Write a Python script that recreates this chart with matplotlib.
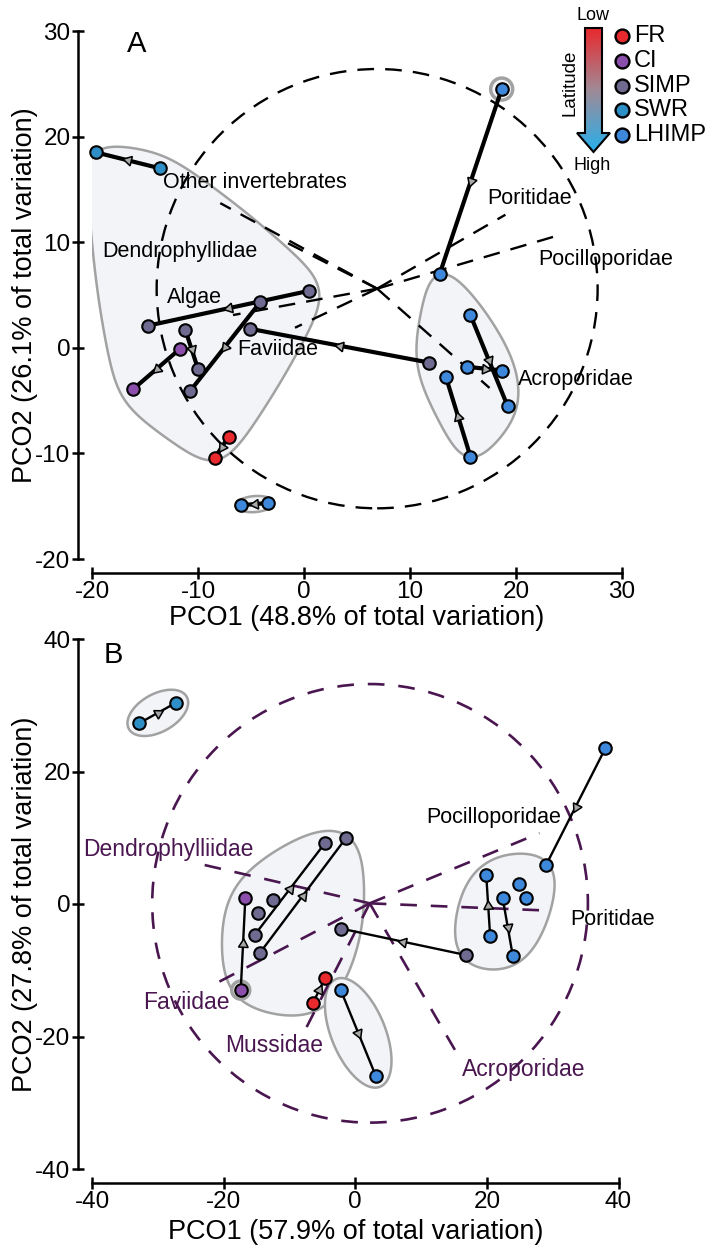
import numpy as np
import matplotlib
matplotlib.use("Agg")
import matplotlib.pyplot as plt
from matplotlib.patches import Polygon, Ellipse
from matplotlib.colors import LinearSegmentedColormap

plt.rcParams["font.family"] = ["Liberation Sans", "DejaVu Sans"]
plt.rcParams["axes.unicode_minus"] = False
plt.rcParams["lines.scale_dashes"] = False

W, H = 718, 1252

site_names = ["FR", "CI", "SIMP", "SWR", "LHIMP"]
site_colors = {"FR": "#e8292d", "CI": "#8b4fab", "SIMP": "#6e6a90",
               "SWR": "#2e8ec6", "LHIMP": "#3d88da"}

# ---- panel A: sample positions
A_x = [-19.6, -13.6, 0.5, -4.15, -14.7, -10.75, -5.1, -11.2, -10.0, -11.7, -16.1, -7.1, -8.4,
       -5.9, -3.4, 18.65, 12.8, 15.7, 19.2, 18.7, 15.4, 13.4, 15.7, 11.8]
A_y = [18.5, 17.0, 5.4, 4.3, 2.1, -4.1, 1.8, 1.7, -2.0, -0.1, -3.9, -8.4, -10.4,
       -14.9, -14.7, 24.5, 7.0, 3.1, -5.5, -2.15, -1.8, -2.8, -10.3, -1.4]
A_site = ["SWR", "SWR", "SIMP", "SIMP", "SIMP", "SIMP", "SIMP", "SIMP", "SIMP", "CI", "CI", "FR", "FR",
          "LHIMP", "LHIMP", "LHIMP", "LHIMP", "LHIMP", "LHIMP", "LHIMP", "LHIMP", "LHIMP", "LHIMP", "SIMP"]
A_moves = [(1, 0), (2, 4), (3, 5), (23, 6), (7, 8), (9, 10), (11, 12), (14, 13),
           (15, 16), (17, 18), (20, 19), (22, 21)]
A_hulls = [list(range(0, 13)), [13, 14], [15], list(range(16, 24))]

A_vec_names = ["Other invertebrates", "Dendrophyllidae", "Algae", "Faviidae",
               "Poritidae", "Pocilloporidae", "Acroporidae"]
A_vec_x = [-7.9, -2.3, -6.7, -0.85, 19.0, 23.5, 17.5]
A_vec_y = [13.7, 10.3, 3.1, 1.9, 12.6, 10.5, -3.8]
A_lab_x = [-13.3, -19.0, -12.9, -6.3, 17.3, 22.1, 20.2]
A_lab_y = [15.7, 9.1, 4.8, -0.15, 14.1, 8.4, -3.0]
A_circle = (6.9, 5.6, 20.8)

# ---- panel B
B_x = [-32.8, -27.2, -4.6, -1.45, -15.3, -14.5, -14.75, -12.5, -16.7, -17.4, -2.2, 16.8,
       -4.6, -6.4, -2.2, 3.1, 38.0, 29.0, 19.9, 20.5, 22.4, 23.95, 24.9, 25.9]
B_y = [27.3, 30.4, 9.2, 9.9, -4.7, -7.4, -1.4, 0.6, 0.9, -13.0, -3.7, -7.7,
       -11.2, -14.9, -13.0, -25.9, 23.5, 5.9, 4.4, -4.9, 0.9, -7.9, 3.0, 0.9]
B_site = ["SWR", "SWR", "SIMP", "SIMP", "SIMP", "SIMP", "SIMP", "SIMP", "CI", "CI", "SIMP", "SIMP",
          "FR", "FR", "LHIMP", "LHIMP", "LHIMP", "LHIMP", "LHIMP", "LHIMP", "LHIMP", "LHIMP", "LHIMP", "LHIMP"]
B_moves = [(0, 1), (4, 2), (5, 3), (9, 8), (11, 10), (13, 12), (14, 15),
           (16, 17), (19, 18), (20, 21)]
B_hulls = [[0, 1], [2, 3, 4, 5, 6, 7, 8, 9, 10, 12, 13], [14, 15], [9], [11, 17, 18, 19, 20, 21, 22, 23]]

B_vec_names = ["Dendrophylliidae", "Faviidae", "Mussidae", "Acroporidae", "Pocilloporidae", "Poritidae"]
B_vec_x = [-24.7, -21.0, -7.4, 15.6, 28.0, 29.5]
B_vec_y = [6.3, -11.9, -18.6, -22.8, 10.7, -1.0]
B_lab_x = [-41.4, -32.3, -19.8, 16.2, 10.85, 32.6]
B_lab_y = [8.3, -14.8, -21.4, -25.0, 13.0, -2.3]
B_origin = (2.2, 0.1)
B_circle = (2.25, 0.1, 33.1)

PURPLE = "#4a1650"
HULL_FC = "#f2f4f7"
HULL_EC = "#a2a2a2"


def convex_hull(P):
    pts = sorted(map(tuple, P))
    def cross(o, a, b):
        return (a[0] - o[0]) * (b[1] - o[1]) - (a[1] - o[1]) * (b[0] - o[0])
    lower, upper = [], []
    for p in pts:
        while len(lower) >= 2 and cross(lower[-2], lower[-1], p) <= 0:
            lower.pop()
        lower.append(p)
    for p in reversed(pts):
        while len(upper) >= 2 and cross(upper[-2], upper[-1], p) <= 0:
            upper.pop()
        upper.append(p)
    return np.array(lower[:-1] + upper[:-1])


def smooth_outline(pix, pad, sigma, bulge, n=600):
    # buffered convex hull, resampled by arc length and gaussian-smoothed
    th = np.linspace(0, 2 * np.pi, 36, endpoint=False)
    circ = pad * np.column_stack([np.cos(th), np.sin(th)])
    hv = convex_hull((pix[:, None, :] + circ[None, :, :]).reshape(-1, 2))
    P = np.vstack([hv, hv[:1]])
    s = np.concatenate([[0], np.cumsum(np.linalg.norm(np.diff(P, axis=0), axis=1))])
    u = np.linspace(0, s[-1], n, endpoint=False)
    xy = np.column_stack([np.interp(u, s, P[:, 0]), np.interp(u, s, P[:, 1])])
    sig = sigma / (s[-1] / n)
    f = np.fft.rfftfreq(n)
    g = np.exp(-0.5 * (2 * np.pi * f * sig) ** 2)
    out = np.column_stack([np.fft.irfft(np.fft.rfft(xy[:, k]) * g, n=n) for k in range(2)])
    # swell the flatter stretches a little so the outline reads as a rounded blob
    c = out.mean(axis=0)
    rr = np.linalg.norm(out - c, axis=1)
    out = c + (out - c) * (1 + bulge * (1 - rr / rr.max()))[:, None]
    return np.vstack([out, out[:1]])


def draw_hull(ax, xs, ys, pad, side=None, lw=1.8, sigma=20, bulge=0.25):
    pix = ax.transData.transform(np.column_stack([xs, ys]))
    th = np.linspace(0, 2 * np.pi, 200)
    if len(pix) == 1:
        curve = pix[0] + pad * np.column_stack([np.cos(th), np.sin(th)])
    elif len(pix) == 2:
        c = pix.mean(axis=0)
        d = pix[1] - pix[0]
        L = np.linalg.norm(d)
        u = d / L
        nrm = np.array([-u[1], u[0]])
        a, b = L / 2 + pad, side if side else pad
        curve = c + np.outer(a * np.cos(th), u) + np.outer(b * np.sin(th), nrm)
    else:
        curve = smooth_outline(pix, pad, sigma, bulge)
    data = ax.transData.inverted().transform(curve)
    ax.fill(data[:, 0], data[:, 1], fc=HULL_FC, ec=HULL_EC, lw=lw, zorder=1)


def draw_moves(ax, xs, ys, moves, lw):
    for i, j in moves:
        ax.plot([xs[i], xs[j]], [ys[i], ys[j]], color="black", lw=lw, zorder=3,
                solid_capstyle="round")
        p = ax.transData.transform([(xs[i], ys[i]), (xs[j], ys[j])])
        ang = np.degrees(np.arctan2(p[1, 1] - p[0, 1], p[1, 0] - p[0, 0]))
        ax.plot((xs[i] + xs[j]) / 2, (ys[i] + ys[j]) / 2, marker=(3, 0, ang - 90),
                ms=8, mfc="#a8a8a8", mec="black", mew=1.1, zorder=4)


def draw_points(ax, xs, ys, sites):
    for x, y, s in zip(xs, ys, sites):
        ax.plot(x, y, "o", ms=9, mfc=site_colors[s], mec="black", mew=1.5, zorder=5,
                clip_on=False)


def style_axes(ax, ticks):
    for s in ["top", "right"]:
        ax.spines[s].set_visible(False)
    for s in ["left", "bottom"]:
        ax.spines[s].set_position(("outward", 10))
        ax.spines[s].set_linewidth(1.8)
    ax.set_xticks(ticks[0])
    ax.set_yticks(ticks[1])
    ax.tick_params(width=1.8, length=9, labelsize=17.5, direction="inout", pad=1)


fig = plt.figure(figsize=(W / 100, H / 100), dpi=100)

# ================= panel A
axA = fig.add_axes([92 / W, 1 - 559 / H, 530 / W, 528 / H])
axA.set_xlim(-20, 30)
axA.set_ylim(-20, 30)
style_axes(axA, (np.arange(-20, 31, 10), np.arange(-20, 31, 10)))
axA.set_xlabel("PCO1 (48.8% of total variation)", fontsize=19.5, labelpad=2)
axA.set_ylabel("PCO2 (26.1% of total variation)", fontsize=19.5, labelpad=-2)

for grp in A_hulls:
    xs = [A_x[i] for i in grp]
    ys = [A_y[i] for i in grp]
    if len(grp) == 1:
        draw_hull(axA, xs, ys, 11, lw=2.5)
    elif len(grp) == 2:
        draw_hull(axA, xs, ys, 6, side=8)
    else:
        draw_hull(axA, xs, ys, 11, sigma=22, bulge=0.22)

cx, cy, r = A_circle
axA.add_patch(Ellipse((cx, cy), 2 * r, 2 * r, fill=False, ec="black", lw=1.7,
                      ls=(0, (12, 8)), zorder=2))
for vx, vy in zip(A_vec_x, A_vec_y):
    axA.plot([cx, vx], [cy, vy], color="black", lw=1.7, ls=(0, (12, 8)), zorder=2)
for name, lx, ly in zip(A_vec_names, A_lab_x, A_lab_y):
    axA.text(lx, ly, name, fontsize=15.5, ha="left", va="center", zorder=6)

draw_moves(axA, A_x, A_y, A_moves, 3.0)
draw_points(axA, A_x, A_y, A_site)
axA.text(-15.75, 28.75, "A", fontsize=21, ha="center", va="center")

# ================= panel B
axB = fig.add_axes([92 / W, 1 - 1169 / H, 526.5 / W, 530 / H])
axB.set_xlim(-40, 40)
axB.set_ylim(-40, 40)
style_axes(axB, (np.arange(-40, 41, 20), np.arange(-40, 41, 20)))
axB.set_xlabel("PCO1 (57.9% of total variation)", fontsize=19.5, labelpad=5)
axB.set_ylabel("PCO2 (27.8% of total variation)", fontsize=19.5, labelpad=-2)

for k, grp in enumerate(B_hulls):
    xs = [B_x[i] for i in grp]
    ys = [B_y[i] for i in grp]
    if len(grp) == 1:
        draw_hull(axB, xs, ys, 9, lw=2.5)
    elif len(grp) == 2:
        side = 19 if k == 0 else 27
        draw_hull(axB, xs, ys, 12, side=side)
    else:
        draw_hull(axB, xs, ys, 17, sigma=30, bulge=0.25)

cx, cy, r = B_circle
axB.add_patch(Ellipse((cx, cy), 2 * r, 2 * r, fill=False, ec=PURPLE, lw=1.9,
                      ls=(0, (12, 10)), zorder=2))
ox, oy = B_origin
for vx, vy in zip(B_vec_x, B_vec_y):
    axB.plot([ox, vx], [oy, vy], color=PURPLE, lw=1.9, ls=(0, (12, 10)), zorder=2)
for k, (name, lx, ly) in enumerate(zip(B_vec_names, B_lab_x, B_lab_y)):
    axB.text(lx, ly, name, fontsize=16.5 if k < 4 else 15.5, ha="left", va="center", zorder=6,
             color=PURPLE if k < 4 else "black")

draw_moves(axB, B_x, B_y, B_moves, 1.7)
draw_points(axB, B_x, B_y, B_site)
axB.text(-36.8, 37.6, "B", fontsize=21, ha="center", va="center")

# ================= legend (pixel coordinates)
lax = fig.add_axes([0, 0, 1, 1], zorder=10)
lax.axis("off")
arrow_xy = [(585, 28), (602, 28), (602, 133), (610, 133), (593.5, 152), (577, 133), (585, 133)]
cmap = LinearSegmentedColormap.from_list("lat", ["#e8292d", "#a08a96", "#27b0ec"])
grad = np.linspace(0, 1, 256).reshape(-1, 1)
clip = Polygon(arrow_xy, closed=True, transform=lax.transData)
im = lax.imshow(grad, cmap=cmap, extent=(577, 610, 152, 28), aspect="auto", origin="upper")
im.set_clip_path(clip)
lax.add_patch(Polygon(arrow_xy, closed=True, fill=False, ec="black", lw=1.5))
lax.set_xlim(0, W)
lax.set_ylim(H, 0)
lax.text(593.5, 15, "Low", fontsize=13, ha="center", va="center")
lax.text(592, 166, "High", fontsize=13, ha="center", va="center")
lax.text(570, 83, "Latitude", fontsize=13.5, ha="center", va="center", rotation=90)
for k, s in enumerate(site_names):
    yy = 36 + 24.8 * k
    lax.plot(622, yy, "o", ms=10, mfc=site_colors[s], mec="black", mew=1.7)
    lax.text(634, yy, s, fontsize=17, ha="left", va="center")

fig.savefig("out.png", dpi=100)
